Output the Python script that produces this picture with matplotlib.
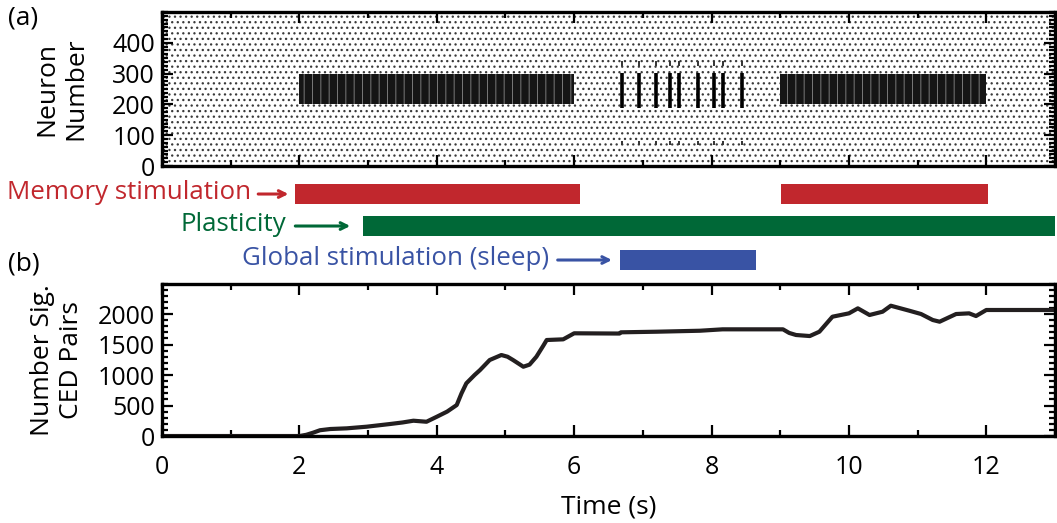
import matplotlib.pyplot as plt
from matplotlib.ticker import MultipleLocator

# Data
# (a) raster: background activity everywhere, dense blocks during memory stimulation,
# short population bursts during sleep
raster_span = (0, 13)
neuron_span = (0, 500)
memory_blocks = [(2.0, 6.0), (9.0, 12.0)]
memory_neurons = (200, 300)
burst_times = [6.69, 6.94, 7.19, 7.39, 7.52, 7.80, 8.04, 8.17, 8.44]
burst_neurons = (188, 302)

# stimulation / plasticity periods (s)
memory_periods = [(1.93, 6.08), (9.01, 12.02)]
plasticity_period = (2.92, 13.0)
sleep_period = (6.66, 8.65)

# (b) number of significant CED pairs
t = [0, 1.0, 2.0, 2.1, 2.2, 2.3, 2.45, 2.69, 2.98, 3.32, 3.5, 3.66, 3.85, 4.0, 4.15,
     4.29, 4.36, 4.43, 4.55, 4.63, 4.77, 4.94, 5.03, 5.11, 5.26, 5.35, 5.45, 5.55,
     5.6, 5.84, 6.0, 6.66, 6.68, 7.2, 7.83, 8.16, 9.04, 9.13, 9.23, 9.43, 9.57,
     9.76, 10.0, 10.13, 10.3, 10.49, 10.61, 10.88, 11.05, 11.22, 11.32, 11.56,
     11.75, 11.85, 12.0, 13.0]
pairs = [0, 0, 0, 20, 55, 95, 115, 126, 153, 197, 222, 251, 234, 316, 400,
         508, 700, 864, 1000, 1082, 1246, 1328, 1300, 1246, 1136, 1170, 1300, 1480,
         1574, 1585, 1684, 1680, 1700, 1710, 1726, 1749, 1749, 1690, 1656, 1639, 1710,
         1956, 2011, 2093, 1984, 2038, 2136, 2054, 2000, 1902, 1874, 2000,
         2011, 1967, 2066, 2066]

red = '#C1272D'
green = '#006837'
blue = '#3953A4'

plt.rcParams.update({'font.family': ['Open Sans', 'DejaVu Sans'], 'font.size': 18})

fig = plt.figure(figsize=(10.57, 5.23), dpi=100)
ax1 = fig.add_axes([0.1533, 0.6826, 0.8448, 0.2945])
axm = fig.add_axes([0.1533, 0.4646, 0.8448, 0.2103])
ax2 = fig.add_axes([0.1533, 0.1663, 0.8448, 0.2916])

# raster background speckle
plt.rcParams['hatch.linewidth'] = 0.9
ax1.bar(raster_span[0], neuron_span[1] - neuron_span[0],
        width=raster_span[1] - raster_span[0], bottom=neuron_span[0],
        align='edge', facecolor='white', edgecolor='#3a3a3a', hatch='...', linewidth=0)
plt.rcParams['hatch.linewidth'] = 0.7
for start, end in memory_blocks:
    ax1.bar(start, memory_neurons[1] - memory_neurons[0], width=end - start,
            bottom=memory_neurons[0], align='edge',
            facecolor='#151515', edgecolor='#7a7a7a', hatch='||', linewidth=0)
ax1.vlines(burst_times, burst_neurons[0], burst_neurons[1], color='black', lw=2.6)
ax1.vlines(burst_times, 326, 340, color='#333333', lw=1.4)
ax1.vlines(burst_times, 68, 80, color='#333333', lw=1.4)
ax1.set_xlim(0, 13)
ax1.set_ylim(0, 500)
ax1.set_yticks([0, 100, 200, 300, 400])
ax1.yaxis.set_minor_locator(MultipleLocator(12.5))
ax1.xaxis.set_major_locator(MultipleLocator(2))
ax1.xaxis.set_minor_locator(MultipleLocator(1))
ax1.set_xticklabels([])
ax1.set_ylabel('Neuron\nNumber', fontsize=19, linespacing=1.2, labelpad=17)

# stimulation bars
axm.set_xlim(0, 13)
axm.set_ylim(110, 0)
axm.axis('off')
for start, end in memory_periods:
    axm.barh(24, end - start, left=start, height=20, color=red, clip_on=False)
axm.barh(56, plasticity_period[1] - plasticity_period[0], left=plasticity_period[0],
         height=20, color=green, clip_on=False)
axm.barh(90, sleep_period[1] - sleep_period[0], left=sleep_period[0],
         height=20, color=blue, clip_on=False)

labels = [('Memory stimulation', red, 24, 1.30, 1.40, 1.84),
          ('Plasticity', green, 56, 1.81, 1.94, 2.74),
          ('Global stimulation (sleep)', blue, 90, 5.64, 5.76, 6.55)]
for text, col, yy, xt, xa0, xa1 in labels:
    axm.text(xt, yy - 1.5, text, color=col, ha='right', va='center', fontsize=18.6,
             clip_on=False)
    axm.annotate('', xy=(xa1, yy), xytext=(xa0, yy), annotation_clip=False,
                 arrowprops=dict(arrowstyle='->', color=col, lw=2.2,
                                 mutation_scale=12, shrinkA=0, shrinkB=0))

# (b) line
ax2.plot(t, pairs, color='#231f20', lw=3)
ax2.set_xlim(0, 13)
ax2.set_ylim(0, 2500)
ax2.set_yticks([0, 500, 1000, 1500, 2000])
ax2.yaxis.set_minor_locator(MultipleLocator(100))
ax2.xaxis.set_major_locator(MultipleLocator(2))
ax2.xaxis.set_minor_locator(MultipleLocator(1))
ax2.set_xlabel('Time (s)', fontsize=19, labelpad=10)
ax2.set_ylabel('Number Sig.\nCED Pairs', fontsize=19, linespacing=1.2, labelpad=10)

for ax in (ax1, ax2):
    for sp in ax.spines.values():
        sp.set_linewidth(2.4)
    ax.tick_params(which='both', direction='in', top=True, right=True, width=1.6,
                   labelsize=18)
    ax.tick_params(axis='y', pad=5)
    ax.tick_params(which='major', length=8)
    ax.tick_params(which='minor', length=4)
ax2.tick_params(axis='x', pad=14)

fig.text(0.008, 0.965, '(a)', fontsize=19, va='center')
fig.text(0.008, 0.495, '(b)', fontsize=19, va='center')

fig.savefig('out.png', dpi=100)
